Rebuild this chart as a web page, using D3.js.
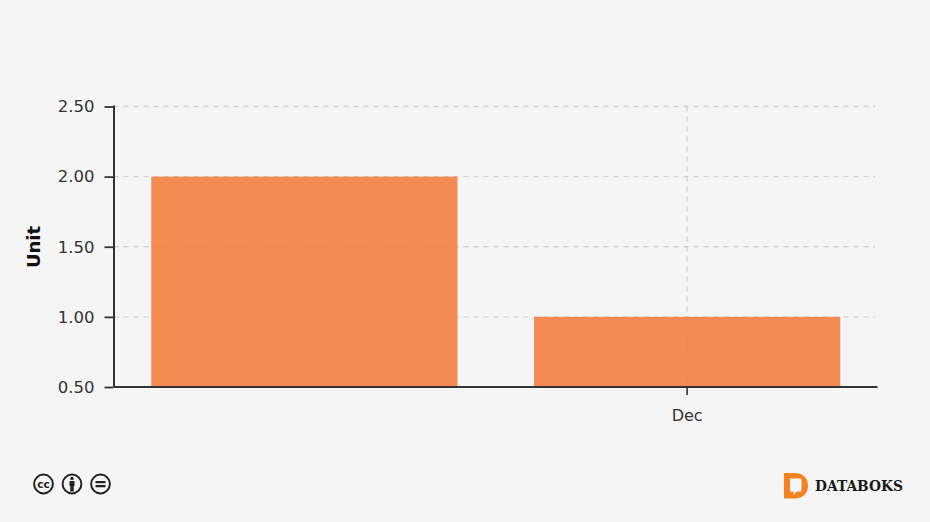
<!DOCTYPE html>
<html><head><meta charset="utf-8">
<script src="https://cdnjs.cloudflare.com/ajax/libs/d3/7.8.5/d3.min.js"></script>
<style>html,body{margin:0;padding:0;background:#f5f5f5}svg{display:block}</style></head>
<body><svg id="c" width="930" height="522"></svg>
<script>
const categories = ["", "Dec"];
const values = [2, 1];
const yTicks = [0.5, 1, 1.5, 2, 2.5];
const yTitle = "Unit";

const svg = d3.select("#c");
const font = "'DejaVu Sans', sans-serif";
const x0 = 113.5, x1 = 877.5, yB = 387, yT = 106.5;
const x = d3.scaleBand().domain(categories).range([113, 878.5]).paddingInner(0.2).paddingOuter(0.1);
const y = d3.scaleLinear().domain([0.5, 2.5]).range([yB, yT]);
const g = svg.append("g");

// grid
g.selectAll(".gy").data(yTicks.slice(1)).join("line")
  .attr("x1", x0).attr("x2", 875).attr("y1", d => y(d)).attr("y2", d => y(d))
  .attr("stroke", "#d2d2d2").attr("stroke-width", 1.3).attr("stroke-dasharray", "5 5");
g.append("line").attr("x1", Math.round(x("Dec") + x.bandwidth() / 2)).attr("x2", Math.round(x("Dec") + x.bandwidth() / 2))
  .attr("y1", yT).attr("y2", yB)
  .attr("stroke", "#d2d2d2").attr("stroke-width", 1.3).attr("stroke-dasharray", "5 5");

// bars
g.selectAll(".bar").data(values).join("rect")
  .attr("x", (d, i) => x(categories[i])).attr("width", x.bandwidth())
  .attr("y", d => y(d)).attr("height", d => yB - y(d))
  .attr("fill", "#f37c38").attr("fill-opacity", 0.87);

// axes
const ax = g.append("g").attr("transform", `translate(${x0},0)`)
  .call(d3.axisLeft(y).tickValues(yTicks).tickFormat(d3.format(".2f")).tickSize(9).tickPadding(10));
ax.select(".domain").attr("d", `M0.5,${yT - 1}V${yB}`).attr("stroke", "#333").attr("stroke-width", 2);
ax.selectAll(".tick line").attr("stroke", "#333").attr("stroke-width", 1.8);
ax.selectAll("text").attr("font-family", font).attr("font-size", 16.5).attr("fill", "#333");

const bx = g.append("g").attr("transform", `translate(0,${yB})`)
  .call(d3.axisBottom(x).tickValues(["Dec"]).tickSize(8).tickPadding(15));
bx.select(".domain").attr("d", `M${x0},0H${x1}`).attr("stroke", "#333").attr("stroke-width", 2);
bx.selectAll(".tick line").attr("stroke", "#333").attr("stroke-width", 1.6);
bx.selectAll("text").attr("font-family", font).attr("font-size", 16).attr("fill", "#333");

svg.append("text").attr("transform", "translate(40,247) rotate(-90)")
  .attr("text-anchor", "middle").attr("font-family", font).attr("font-size", 18)
  .attr("font-weight", "bold").attr("fill", "#111").text(yTitle);

// licence icons
const cc = svg.append("g").attr("fill", "none").attr("stroke", "#222");
[43.5, 72, 100.5].forEach(cx => cc.append("circle").attr("cx", cx).attr("cy", 484).attr("r", 9.4).attr("stroke-width", 2));
svg.append("text").attr("x", 43.5).attr("y", 487.5).attr("text-anchor", "middle")
  .attr("font-family", font).attr("font-weight", "bold").attr("font-size", 10.5).attr("fill", "#222").text("cc");
svg.append("circle").attr("cx", 72).attr("cy", 478.5).attr("r", 1.7).attr("fill", "#222");
svg.append("path").attr("d", "M69.5,481h5v5h-.8v5.5h-3.4v-5.5h-.8z").attr("fill", "#222");
svg.append("path").attr("d", "M95.5,481h10v2.2h-10zM95.5,485h10v2.2h-10z").attr("fill", "#222");

// brand
svg.append("path")
  .attr("d", "M784,473h11c8,0 13,5 13,12.5s-5,13 -13,13h-11z M790,478.5v13h3l.8,3l3,-3h3.2c1,0 1.5,-.5 1.5,-1.5v-10c0,-1 -.5,-1.5 -1.5,-1.5z")
  .attr("fill", "#f58220").attr("fill-rule", "evenodd");
svg.append("text").attr("x", 815).attr("y", 491).attr("font-family", "'DejaVu Serif', serif")
  .attr("font-weight", "bold").attr("font-size", 15).attr("textLength", 88).attr("lengthAdjust", "spacingAndGlyphs")
  .attr("fill", "#1a1a1a").text("DATABOKS");
</script></body></html>
